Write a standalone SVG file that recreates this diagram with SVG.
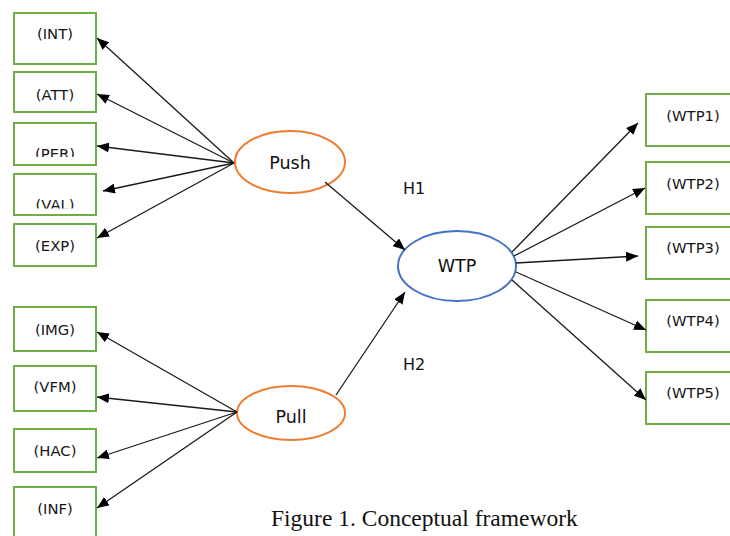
<svg xmlns="http://www.w3.org/2000/svg" width="730" height="536" viewBox="0 0 730 536">
  <style>
    .box { fill: #ffffff; stroke: #70AD47; stroke-width: 2; }
    .push { fill: #ffffff; stroke: #ED7D31; stroke-width: 2; }
    .main { fill: #ffffff; stroke: #4472C4; stroke-width: 2; }
    .lbl { font-family: "DejaVu Sans", Verdana, sans-serif; font-size: 14.8px; fill: #161616; text-anchor: middle; }
    .big { font-family: "DejaVu Sans", Verdana, sans-serif; font-size: 17.5px; fill: #111111; text-anchor: middle; }
    .hyp { font-family: "DejaVu Sans", Verdana, sans-serif; font-size: 16px; fill: #111111; }
    .cap { font-family: "Liberation Serif", "Times New Roman", serif; font-size: 23.5px; fill: #111111; }
    .edge { stroke: #1a1a1a; stroke-width: 1.3; fill: none; marker-end: url(#arrow); }
  </style>
  <defs>
    <marker id="arrow" viewBox="0 0 12 10" refX="12" refY="5" markerWidth="12" markerHeight="10" markerUnits="userSpaceOnUse" orient="auto">
      <path d="M0,0 L12,5 L0,10 z" fill="#000000"/>
    </marker>
    <!-- labels whose lower edge is hidden -->
    <clipPath id="clipPer"><rect x="0" y="120" width="120" height="37"/></clipPath>
    <clipPath id="clipVal"><rect x="0" y="170" width="120" height="38.5"/></clipPath>
  </defs>

  <rect width="730" height="536" fill="#ffffff"/>

  <!-- push indicators -->
  <g id="node-int"><rect class="box" x="14" y="13" width="82" height="51"/><text class="lbl" x="55" y="39">(INT)</text></g>
  <g id="node-att"><rect class="box" x="14" y="72" width="82" height="40"/><text class="lbl" x="55" y="100">(ATT)</text></g>
  <g id="node-per"><rect class="box" x="14" y="123" width="82" height="42"/><text class="lbl" x="55" y="158.5" clip-path="url(#clipPer)">(PER)</text></g>
  <g id="node-val"><rect class="box" x="14" y="174" width="82" height="41"/><text class="lbl" x="55" y="210" clip-path="url(#clipVal)">(VAL)</text></g>
  <g id="node-exp"><rect class="box" x="14" y="224" width="82" height="42"/><text class="lbl" x="55" y="251">(EXP)</text></g>

  <!-- pull indicators -->
  <g id="node-img"><rect class="box" x="14" y="307" width="82" height="44"/><text class="lbl" x="55" y="335">(IMG)</text></g>
  <g id="node-vfm"><rect class="box" x="14" y="366" width="82" height="45"/><text class="lbl" x="55" y="392">(VFM)</text></g>
  <g id="node-hac"><rect class="box" x="14" y="429" width="82" height="43"/><text class="lbl" x="55" y="456">(HAC)</text></g>
  <g id="node-inf"><rect class="box" x="14" y="487" width="82" height="60"/><text class="lbl" x="55" y="514">(INF)</text></g>

  <!-- latent constructs -->
  <g id="node-push"><ellipse class="push" cx="290" cy="162" rx="55" ry="31"/><text class="big" x="290" y="169">Push</text></g>
  <g id="node-pull"><ellipse class="push" cx="291" cy="413" rx="54" ry="27"/><text class="big" x="291" y="423">Pull</text></g>
  <g id="node-wtp"><ellipse class="main" cx="457" cy="266" rx="59" ry="35"/><text class="big" x="457" y="272">WTP</text></g>

  <!-- WTP indicators -->
  <g id="node-wtp1"><rect class="box" x="646" y="94" width="90" height="52"/><text class="lbl" x="693" y="121">(WTP1)</text></g>
  <g id="node-wtp2"><rect class="box" x="646" y="162" width="90" height="52"/><text class="lbl" x="693" y="189">(WTP2)</text></g>
  <g id="node-wtp3"><rect class="box" x="646" y="227" width="90" height="52"/><text class="lbl" x="693" y="253">(WTP3)</text></g>
  <g id="node-wtp4"><rect class="box" x="646" y="300" width="90" height="52"/><text class="lbl" x="693" y="326">(WTP4)</text></g>
  <g id="node-wtp5"><rect class="box" x="646" y="372" width="90" height="52"/><text class="lbl" x="693" y="398">(WTP5)</text></g>

  <!-- hypothesis labels -->
  <text class="hyp" x="403" y="194">H1</text>
  <text class="hyp" x="403" y="370">H2</text>

  <g id="connectors">
    <line class="edge" x1="234" y1="163" x2="97" y2="38"/>
    <line class="edge" x1="234" y1="163" x2="97" y2="94"/>
    <line class="edge" x1="234" y1="163" x2="97" y2="146"/>
    <line class="edge" x1="234" y1="163" x2="103" y2="191"/>
    <line class="edge" x1="234" y1="163" x2="97" y2="238"/>

    <line class="edge" x1="237" y1="412" x2="97" y2="332"/>
    <line class="edge" x1="237" y1="412" x2="97" y2="397"/>
    <line class="edge" x1="237" y1="412" x2="97" y2="458"/>
    <line class="edge" x1="237" y1="412" x2="97" y2="508"/>

    <line class="edge" x1="325" y1="182" x2="405" y2="250"/>
    <line class="edge" x1="336" y1="395" x2="405" y2="292"/>

    <line class="edge" x1="512" y1="252" x2="638" y2="123"/>
    <line class="edge" x1="514" y1="256" x2="645" y2="188"/>
    <line class="edge" x1="516" y1="263" x2="638" y2="256"/>
    <line class="edge" x1="516" y1="272" x2="646" y2="330"/>
    <line class="edge" x1="512" y1="280" x2="646" y2="400"/>
  </g>

  <text class="cap" x="271" y="526">Figure 1. Conceptual framework</text>
</svg>
